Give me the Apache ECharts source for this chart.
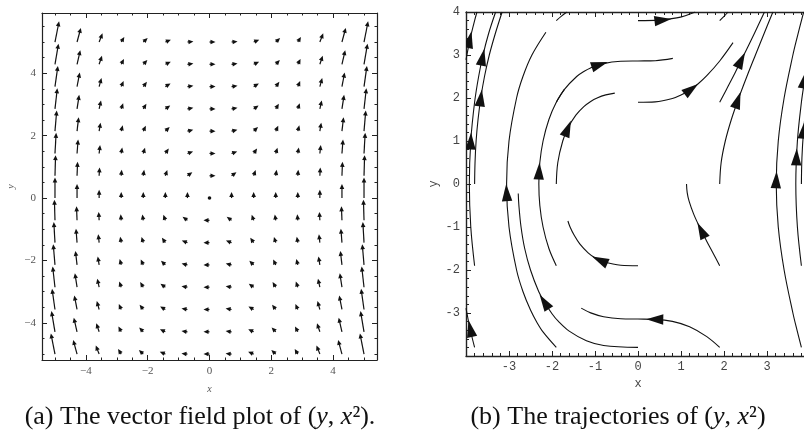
<!DOCTYPE html>
<html>
<head>
    <meta charset="utf-8">
    <title>vector field and trajectories of (y, x^2)</title>
    <script src="https://cdn.jsdelivr.net/npm/echarts@6/dist/echarts.min.js"></script>
    <style>
        html, body { margin: 0; padding: 0; background: #fff; }
        #main { width: 804px; height: 433px; }
    </style>
</head>
<body>
<div id="main"></div>
<script type="text/javascript">
    // (a) vector field sample grid
    var fieldX = [-5, -4.286, -3.571, -2.857, -2.143, -1.429, -0.714, 0, 0.714, 1.429, 2.143, 2.857, 3.571, 4.286, 5];
    var fieldY = [-5, -4.286, -3.571, -2.857, -2.143, -1.429, -0.714, 0, 0.714, 1.429, 2.143, 2.857, 3.571, 4.286, 5];
    // x-component for each row, y-component for each column
    var fieldU = [-5, -4.286, -3.571, -2.857, -2.143, -1.429, -0.714, 0, 0.714, 1.429, 2.143, 2.857, 3.571, 4.286, 5];
    var fieldV = [25, 18.37, 12.755, 8.163, 4.592, 2.041, 0.51, 0, 0.51, 2.041, 4.592, 8.163, 12.755, 18.37, 25];

    var ticksA = [-4, -2, 0, 2, 4];
    var minorAX = [-5, -4.5, -3.5, -3, -2.5, -1.5, -1, -0.5, 0.5, 1, 1.5, 2.5, 3, 3.5, 4.5, 5];
    var minorAY = [-5, -4.5, -3.5, -3, -2.5, -1.5, -1, -0.5, 0.5, 1, 1.5, 2.5, 3, 3.5, 4.5, 5, 5.5];

    // (b) trajectories
    var traj1 = [[0, -1.9], [-0.4, -1.889], [-0.8, -1.808], [-1.0, -1.716], [-1.16, -1.6], [-1.35, -1.4], [-1.48, -1.2], [-1.58, -1.0], [-1.63, -0.86]];
    var traj2 = [[0, -3.8], [-0.8, -3.755], [-1.2, -3.645], [-1.6, -3.422], [-1.85, -3.197], [-2.0, -3.018], [-2.18, -2.74], [-2.31, -2.5], [-2.5, -2.0], [-2.635, -1.5], [-2.72, -1.0], [-2.77, -0.5], [-2.785, -0.22]];
    var traj3 = [[1.9, -3.8], [1.6, -3.549], [1.2, -3.319], [0.8, -3.195], [0.4, -3.148], [0, -3.141], [-0.4, -3.134], [-0.8, -3.086], [-1.1, -2.997], [-1.32, -2.887]];
    var traj4 = [[1.9, -1.9], [1.741, -1.6], [1.583, -1.3], [1.432, -1.0], [1.295, -0.7], [1.188, -0.4], [1.144, -0.2], [1.128, 0]];
    var traj5 = [[1.9, 1.9], [2.057, 2.2], [2.264, 2.6], [2.462, 3.0], [2.706, 3.5], [2.941, 4.0]];
    var traj6 = [[1.9, 0], [1.934, 0.5], [2.03, 1.0], [2.171, 1.5], [2.343, 2.0], [2.532, 2.5], [2.731, 3.0], [2.933, 3.5], [3.137, 4.0]];
    var traj7 = [[0, 1.9], [0.4, 1.911], [0.8, 1.988], [1.0, 2.068], [1.2, 2.182], [1.4, 2.332], [1.6, 2.518], [1.9, 2.861], [2.21, 3.287]];
    var traj8 = [[0, 3.8], [0.5, 3.811], [0.9, 3.863], [1.1, 3.915], [1.33, 4.0]];
    var traj9 = [[1.9, 3.8], [2.0, 3.899], [2.095, 4.0]];
    var traj10 = [[-1.9, 3.8], [-1.78, 3.905], [-1.654, 4.0]];
    var traj11 = [[-1.9, -1.9], [-2.072, -1.5], [-2.208, -1.0], [-2.283, -0.5], [-2.306, 0], [-2.283, 0.5], [-2.208, 1.0], [-2.072, 1.5], [-1.9, 1.9], [-1.711, 2.2]];
    var traj12 = [[-1.9, 0], [-1.865, 0.5], [-1.75, 1.0], [-1.629, 1.3], [-1.445, 1.6], [-1.26, 1.8], [-1.1, 1.92], [-0.951, 2.0], [-0.75, 2.072], [-0.54, 2.114]];
    var traj13 = [[-1.9, 1.9], [-1.711, 2.2], [-1.426, 2.5], [-1.25, 2.623], [-1.102, 2.7], [-0.8, 2.8], [-0.4, 2.853], [0, 2.861], [0.4, 2.868], [0.81, 2.922]];
    var traj14 = [[-1.9, -3.8], [-2.2, -3.452], [-2.35, -3.219], [-2.5, -2.932], [-2.676, -2.5], [-2.824, -2.0], [-3.0, -1.0], [-3.056, 0], [-3.0, 1.0], [-2.824, 2.0], [-2.676, 2.5], [-2.467, 3.0], [-2.142, 3.53]];
    var traj15 = [[-3.8, -1.9], [-3.889, -1.0], [-3.922, 0], [-3.889, 1.0], [-3.8, 1.9], [-3.706, 2.5], [-3.604, 3.0], [-3.474, 3.5], [-3.311, 4.0]];
    var traj16 = [[-3.8, 0], [-3.79, 0.5], [-3.765, 1.0], [-3.72, 1.5], [-3.656, 2.0], [-3.57, 2.5], [-3.458, 3.0], [-3.318, 3.5], [-3.16, 4.0]];
    var traj17 = [[-3.8, -3.8], [-3.875, -3.5], [-3.94, -3.2], [-4.0, -2.89]];
    var traj18 = [[-4.0, 2.89], [-3.94, 3.2], [-3.875, 3.5], [-3.8, 3.8], [-3.745, 4.0]];
    var traj19 = [[3.8, -3.8], [3.698, -3.4], [3.602, -3.0], [3.398, -2.0], [3.262, -1.0], [3.215, 0], [3.262, 1.0], [3.398, 2.0], [3.602, 3.0], [3.698, 3.4], [3.853, 4.0]];
    var traj20 = [[3.8, -1.9], [3.707, -1.0], [3.67, 0], [3.707, 1.0], [3.8, 1.9], [3.868, 2.37], [3.933, 2.75], [4.0, 3.11]];
    var traj21 = [[3.8, 0], [3.812, 0.6], [3.848, 1.2], [3.909, 1.8], [4.0, 2.47]];

    var trajectories = [traj1, traj2, traj3, traj4, traj5, traj6, traj7, traj8, traj9, traj10, traj11,
        traj12, traj13, traj14, traj15, traj16, traj17, traj18, traj19, traj20, traj21];

    // where the big arrow heads sit
    var arrowPoints = [[-0.89, -1.77], [-2.18, -2.74], [0.39, -3.148], [1.471, -1.08], [2.4, 2.88], [2.32, 1.95],
        [1.24, 2.209], [0.58, 3.814], [-2.3, 0.3], [-1.634, 1.29], [-0.89, 2.777], [-3.055, -0.2],
        [-3.889, 1.0], [-3.614, 2.95], [-3.656, 2.0], [-3.9, -3.36], [-3.915, 3.36], [3.215, 0.1],
        [3.685, 0.63], [3.868, 2.42], [3.85, 1.25]];

    var fieldData = [];
    for (var i = 0; i < fieldY.length; i++) {
        for (var j = 0; j < fieldX.length; j++) {
            fieldData.push([fieldX[j], fieldY[i], fieldU[i], fieldV[j]]);
        }
    }

    // direction of the nearest curve segment to a point
    function dirAt(p) {
        var best = null, bestD = Infinity;
        trajectories.forEach(function (c) {
            for (var k = 0; k < c.length - 1; k++) {
                var a = c[k], b = c[k + 1];
                var vx = b[0] - a[0], vy = b[1] - a[1];
                var t = ((p[0] - a[0]) * vx + (p[1] - a[1]) * vy) / (vx * vx + vy * vy);
                t = Math.max(0, Math.min(1, t));
                var d = Math.hypot(a[0] + t * vx - p[0], a[1] + t * vy - p[1]);
                if (d < bestD) { bestD = d; best = [vx, vy]; }
            }
        });
        return best;
    }

    var headData = arrowPoints.map(function (p) {
        var d = dirAt(p);
        return [p[0], p[1], d[0], d[1]];
    });

    function renderVector(params, api) {
        var x = api.value(0), y = api.value(1), u = api.value(2), v = api.value(3);
        var p = api.coord([x, y]);
        var mag = Math.hypot(u, v);
        if (mag === 0) {
            return {type: 'circle', shape: {cx: p[0], cy: p[1], r: 1.8}, style: {fill: '#111'}};
        }
        var q = api.coord([x + u / mag, y + v / mag]);
        var dx = q[0] - p[0], dy = q[1] - p[1];
        var dl = Math.hypot(dx, dy);
        dx /= dl; dy /= dl;
        var len = Math.max(6, mag - 4.4);
        var hl = 5, hw = 2.3;
        var tip = [p[0] + dx * len, p[1] + dy * len];
        var base = [tip[0] - dx * hl, tip[1] - dy * hl];
        return {
            type: 'group',
            children: [
                {type: 'line', shape: {x1: p[0], y1: p[1], x2: base[0] + dx, y2: base[1] + dy},
                    style: {stroke: '#111', lineWidth: 1.2}},
                {type: 'polygon', shape: {points: [tip, [base[0] - dy * hw, base[1] + dx * hw], [base[0] + dy * hw, base[1] - dx * hw]]},
                    style: {fill: '#111'}}
            ]
        };
    }

    function renderHead(params, api) {
        var x = api.value(0), y = api.value(1);
        var p = api.coord([x, y]);
        var q = api.coord([x + api.value(2), y + api.value(3)]);
        var dx = q[0] - p[0], dy = q[1] - p[1];
        var d = Math.hypot(dx, dy) || 1;
        dx /= d; dy /= d;
        var L = 17, W = 5.2;
        var tip = [p[0] + dx * L / 2, p[1] + dy * L / 2];
        var b = [p[0] - dx * L / 2, p[1] - dy * L / 2];
        return {
            type: 'polygon',
            shape: {points: [tip, [b[0] - dy * W, b[1] + dx * W], [b[0] + dy * W, b[1] - dx * W]]},
            style: {fill: '#111'}
        };
    }

    var serifLabel = {fontFamily: 'Liberation Serif', fontSize: 11, color: '#555'};
    var monoLabel = {fontFamily: 'Liberation Mono', fontSize: 12, color: '#444'};
    var frameA = {show: true, onZero: false, lineStyle: {color: '#222', width: 1.2}};
    var frameB = {show: true, onZero: false, lineStyle: {color: '#222', width: 1.4}};

    function axisA(pos, min, max, major, labelled, name) {
        return {
            type: 'value', gridIndex: 0, position: pos, min: min, max: max,
            axisLine: major ? frameA : {show: false, onZero: false},
            axisTick: {show: true, inside: true, length: major ? 5 : 2.5,
                customValues: major ? ticksA : (pos === 'left' || pos === 'right' ? minorAY : minorAX),
                lineStyle: {color: '#222', width: 1}},
            axisLabel: labelled ? Object.assign({show: true, customValues: ticksA, margin: 6,
                formatter: function (v) { return v < 0 ? '\u2212' + (-v) : String(v); }}, serifLabel) : {show: false},
            splitLine: {show: false},
            name: name || '', nameLocation: 'middle',
            nameGap: pos === 'bottom' ? 24 : 26,
            nameTextStyle: {fontFamily: 'Liberation Serif', fontStyle: 'italic', fontSize: 10, color: '#555'}
        };
    }

    var dom = document.getElementById('main');
    var myChart = echarts.init(dom, null, {renderer: 'canvas'});

    var option = {
        backgroundColor: '#fff',
        animation: false,
        grid: [
            {left: 42, right: 427, top: 13, bottom: 73, outerBoundsMode: 'none'},
            {left: 466, right: -6, top: 12, bottom: 77, outerBoundsMode: 'none'}
        ],
        xAxis: [
            axisA('bottom', -5.42, 5.42, true, true, 'x'),
            axisA('bottom', -5.42, 5.42, false, false),
            axisA('top', -5.42, 5.42, true, false),
            axisA('top', -5.42, 5.42, false, false),
            {
                type: 'value', gridIndex: 1, position: 'bottom', min: -4, max: 4, interval: 1,
                axisLine: frameB,
                axisTick: {show: true, inside: true, length: 5, lineStyle: {color: '#222'}},
                minorTick: {show: true, splitNumber: 5, length: 3, lineStyle: {color: '#222'}},
                axisLabel: Object.assign({margin: 5, showMinLabel: true, showMaxLabel: true,
                    formatter: function (v) { return (v === -4 || v === 4) ? '' : String(v); }}, monoLabel),
                splitLine: {show: false}, minorSplitLine: {show: false},
                name: 'x', nameLocation: 'middle', nameGap: 20,
                nameTextStyle: {fontFamily: 'Liberation Mono', fontSize: 12, color: '#444'}
            },
            {
                type: 'value', gridIndex: 1, position: 'top', min: -4, max: 4, interval: 1,
                axisLine: frameB,
                axisTick: {show: true, inside: true, length: 5, lineStyle: {color: '#222'}},
                minorTick: {show: true, splitNumber: 5, length: 3, lineStyle: {color: '#222'}},
                axisLabel: {show: false}, splitLine: {show: false}
            }
        ],
        yAxis: [
            axisA('left', -5.19, 5.93, true, true, 'y'),
            axisA('left', -5.19, 5.93, false, false),
            axisA('right', -5.19, 5.93, true, false),
            axisA('right', -5.19, 5.93, false, false),
            {
                type: 'value', gridIndex: 1, position: 'left', min: -4, max: 4, interval: 1,
                axisLine: frameB,
                axisTick: {show: true, inside: true, length: 5, lineStyle: {color: '#222'}},
                minorTick: {show: true, splitNumber: 5, length: 3, lineStyle: {color: '#222'}},
                axisLabel: Object.assign({margin: 6, showMinLabel: true, showMaxLabel: true,
                    formatter: function (v) { return v === -4 ? '' : String(v); }}, monoLabel),
                splitLine: {show: false}, minorSplitLine: {show: false},
                name: 'y', nameLocation: 'middle', nameGap: 26,
                nameTextStyle: {fontFamily: 'Liberation Mono', fontSize: 12, color: '#444'}
            }
        ],
        series: [
            {
                type: 'custom', name: 'field', coordinateSystem: 'cartesian2d',
                xAxisIndex: 0, yAxisIndex: 0, silent: true, clip: false,
                renderItem: renderVector, data: fieldData
            },
            {
                type: 'custom', name: 'heads', coordinateSystem: 'cartesian2d',
                xAxisIndex: 4, yAxisIndex: 4, silent: true, clip: true, z: 3,
                renderItem: renderHead, data: headData
            }
        ].concat(trajectories.map(function (c) {
            return {
                type: 'line', xAxisIndex: 4, yAxisIndex: 4, data: c,
                showSymbol: false, smooth: 0.35, clip: true, silent: true,
                lineStyle: {color: '#111', width: 1.1}
            };
        })),
        graphic: [
            {
                type: 'text', x: 200, y: 417,
                style: {
                    text: '(a) The vector field plot of ({i|y}, {i|x}²).',
                    font: '26px "Liberation Serif"', fill: '#111',
                    textAlign: 'center', textVerticalAlign: 'middle',
                    rich: {i: {fontFamily: 'Liberation Serif', fontStyle: 'italic', fontSize: 26, fill: '#111'}}
                }
            },
            {
                type: 'text', x: 618, y: 417,
                style: {
                    text: '(b) The trajectories of ({i|y}, {i|x}²)',
                    font: '26px "Liberation Serif"', fill: '#111',
                    textAlign: 'center', textVerticalAlign: 'middle',
                    rich: {i: {fontFamily: 'Liberation Serif', fontStyle: 'italic', fontSize: 26, fill: '#111'}}
                }
            }
        ]
    };

    if (option && typeof option === 'object') {
        myChart.setOption(option);
    }

    window.addEventListener('resize', myChart.resize);
</script>
</body>
</html>
